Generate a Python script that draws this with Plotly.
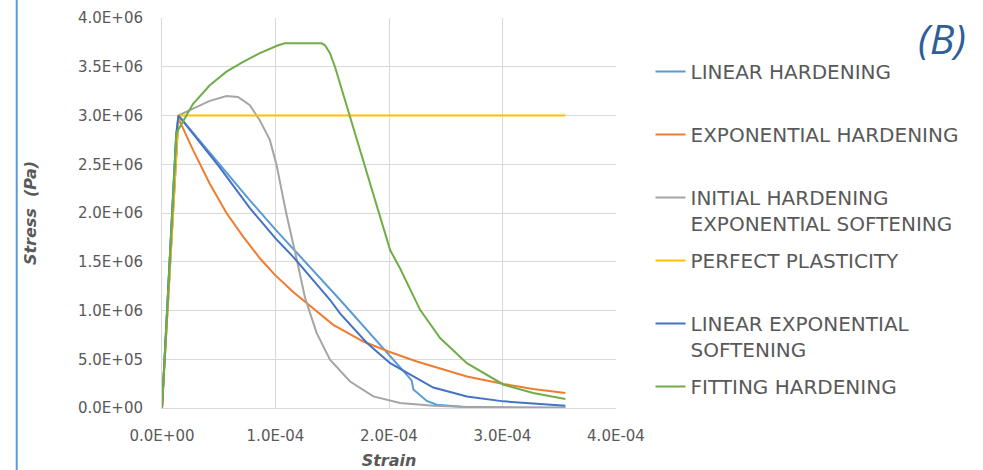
import plotly.graph_objects as go

# Strain (-) and stress (Pa) for each constitutive model
lin_hard_strain = [0, 1.25e-05, 1.45e-05, 7.74e-05, 1.0e-04, 1.3e-04, 1.568e-04, 2.157e-04, 2.2e-04,
                   2.215e-04, 2.333e-04, 2.42e-04, 2.64e-04, 3.0e-04, 3.554e-04]
lin_hard_stress = [0, 2.8e06, 3.0e06, 2.13e06, 1.83e06, 1.45e06, 1.11e06, 0.34e06, 0.28e06,
                   0.19e06, 0.072e06, 0.034e06, 0.012e06, 0.004e06, 0.002e06]

exp_hard_strain = [0, 1.45e-05, 2.74e-05, 4.21e-05, 5.68e-05, 7.15e-05, 8.62e-05, 9.95e-05, 1.156e-04,
                   1.26e-04, 1.509e-04, 1.774e-04, 1.995e-04, 2.245e-04, 2.539e-04, 2.686e-04,
                   3.01e-04, 3.27e-04, 3.554e-04]
exp_hard_stress = [0, 2.97e06, 2.645e06, 2.30e06, 2.0e06, 1.757e06, 1.536e06, 1.365e06, 1.19e06,
                   1.09e06, 0.853e06, 0.682e06, 0.58e06, 0.477e06, 0.375e06, 0.324e06,
                   0.246e06, 0.195e06, 0.154e06]

init_hard_strain = [0, 1.45e-05, 2.74e-05, 4.21e-05, 5.68e-05, 6.7e-05, 7.74e-05, 8.62e-05, 9.5e-05,
                    1.01e-04, 1.068e-04, 1.098e-04, 1.186e-04, 1.26e-04, 1.363e-04, 1.48e-04,
                    1.657e-04, 1.862e-04, 2.098e-04, 2.39e-04, 2.7e-04, 3.0e-04, 3.554e-04]
init_hard_stress = [0, 3.0e06, 3.07e06, 3.15e06, 3.2e06, 3.19e06, 3.106e06, 2.95e06, 2.75e06,
                    2.49e06, 2.15e06, 1.98e06, 1.53e06, 1.13e06, 0.768e06, 0.495e06,
                    0.272e06, 0.119e06, 0.051e06, 0.024e06, 0.01e06, 0.005e06, 0.002e06]

perfect_strain = [0, 1.45e-05, 3.554e-04]
perfect_stress = [0, 3.0e06, 3.0e06]

lin_exp_strain = [0, 1.25e-05, 1.45e-05, 5.0e-05, 7.74e-05, 1.0e-04, 1.156e-04, 1.48e-04, 1.568e-04,
                  1.804e-04, 2.01e-04, 2.245e-04, 2.39e-04, 2.539e-04, 2.686e-04, 3.01e-04,
                  3.27e-04, 3.554e-04]
lin_exp_stress = [0, 2.8e06, 3.0e06, 2.48e06, 2.05e06, 1.74e06, 1.55e06, 1.11e06, 0.97e06,
                  0.67e06, 0.46e06, 0.307e06, 0.21e06, 0.165e06, 0.119e06, 0.068e06,
                  0.044e06, 0.024e06]

fitting_strain = [0, 4.8e-06, 1.27e-05, 2.74e-05, 4.21e-05, 5.68e-05, 7.15e-05, 8.62e-05, 9.8e-05,
                  1.024e-04, 1.083e-04, 1.407e-04, 1.436e-04, 1.48e-04, 1.524e-04, 1.568e-04,
                  1.657e-04, 1.774e-04, 1.862e-04, 1.95e-04, 2.01e-04, 2.098e-04, 2.157e-04,
                  2.274e-04, 2.45e-04, 2.539e-04, 2.686e-04, 3.01e-04, 3.27e-04, 3.554e-04]
fitting_stress = [0, 1.11e06, 2.82e06, 3.12e06, 3.31e06, 3.45e06, 3.55e06, 3.64e06, 3.70e06,
                  3.72e06, 3.74e06, 3.74e06, 3.72e06, 3.64e06, 3.50e06, 3.33e06,
                  2.97e06, 2.51e06, 2.17e06, 1.83e06, 1.62e06, 1.43e06, 1.29e06,
                  1.007e06, 0.717e06, 0.62e06, 0.46e06, 0.239e06, 0.154e06, 0.092e06]

series_names = ["LINEAR HARDENING", "EXPONENTIAL HARDENING",
                "INITIAL HARDENING<br>EXPONENTIAL SOFTENING", "PERFECT PLASTICITY",
                "LINEAR EXPONENTIAL<br>SOFTENING", "FITTING HARDENING"]
series_colors = ["#5B9BD5", "#ED7D31", "#A5A5A5", "#FFC000", "#4472C4", "#70AD47"]

x_tick_vals = [0, 1e-4, 2e-4, 3e-4, 4e-4]
x_tick_text = ["0.0E+00", "1.0E-04", "2.0E-04", "3.0E-04", "4.0E-04"]
y_tick_vals = [0, 5e5, 1e6, 1.5e6, 2e6, 2.5e6, 3e6, 3.5e6, 4e6]
y_tick_text = ["0.0E+00", "5.0E+05", "1.0E+06", "1.5E+06", "2.0E+06",
               "2.5E+06", "3.0E+06", "3.5E+06", "4.0E+06"]

series_x = [lin_hard_strain, exp_hard_strain, init_hard_strain, perfect_strain, lin_exp_strain, fitting_strain]
series_y = [lin_hard_stress, exp_hard_stress, init_hard_stress, perfect_stress, lin_exp_stress, fitting_stress]

TEXT = "#595959"
GRID = "#D9D9D9"

W, H = 983, 470
M_L, M_R, M_T, M_B = 162, 367, 18, 62
PLOT_H = H - M_T - M_B

fig = go.Figure()
legend_layouts = {}
# Evenly spaced legend entries: one legend box per series
ENTRY_TOP0, ENTRY_STEP = 52, 63
for i, (xs, ys, name, color) in enumerate(zip(series_x, series_y, series_names, series_colors)):
    key = "legend" if i == 0 else f"legend{i + 1}"
    fig.add_trace(go.Scatter(
        x=xs, y=ys, name=name, mode="lines",
        line=dict(color=color, width=2),
        legend=key,
    ))
    top_px = ENTRY_TOP0 + i * ENTRY_STEP
    legend_layouts[key] = dict(
        x=1.076, xanchor="left",
        y=1 - (top_px - M_T) / PLOT_H, yanchor="top",
        valign="top",
        font=dict(family="DejaVu Sans", size=20, color=TEXT),
        bgcolor="rgba(0,0,0,0)",
    )

fig.update_layout(
    width=W, height=H,
    margin=dict(l=M_L, r=M_R, t=M_T, b=M_B),
    paper_bgcolor="white", plot_bgcolor="white",
    showlegend=True,
    xaxis=dict(
        range=[0, 4e-4], tickvals=x_tick_vals, ticktext=x_tick_text,
        showgrid=True, gridcolor=GRID, gridwidth=1,
        showline=True, linecolor=GRID, linewidth=1, zeroline=False,
        ticks="", ticklabelstandoff=14, automargin=False,
        tickfont=dict(family="DejaVu Sans", size=15, color=TEXT),
        title=dict(text="<b><i>Strain</i></b>", font=dict(family="DejaVu Sans", size=16, color=TEXT),
                   standoff=12),
    ),
    yaxis=dict(
        range=[0, 4e6], tickvals=y_tick_vals, ticktext=y_tick_text,
        showgrid=True, gridcolor=GRID, gridwidth=1,
        showline=True, linecolor=GRID, linewidth=1, zeroline=False,
        ticks="", ticklabelstandoff=15, automargin=False,
        tickfont=dict(family="DejaVu Sans", size=15, color=TEXT),
        title=dict(text="<b><i>Stress  (Pa)</i></b>", font=dict(family="DejaVu Sans", size=16, color=TEXT),
                   standoff=37),
    ),
    **legend_layouts,
)

# Panel label
fig.add_annotation(
    text="<i>(B)</i>", xref="paper", yref="paper", x=1.718, y=0.95,
    xanchor="center", yanchor="middle", showarrow=False,
    font=dict(family="Open Sans", size=41, color="#2E5F99"),
)

# Blue rule down the left edge of the figure
fig.add_shape(type="line", xref="paper", yref="paper",
              x0=-0.32, x1=-0.32, y0=-0.2, y1=1.1,
              line=dict(color="#5B9BD5", width=2))

fig.write_html("out.html")
